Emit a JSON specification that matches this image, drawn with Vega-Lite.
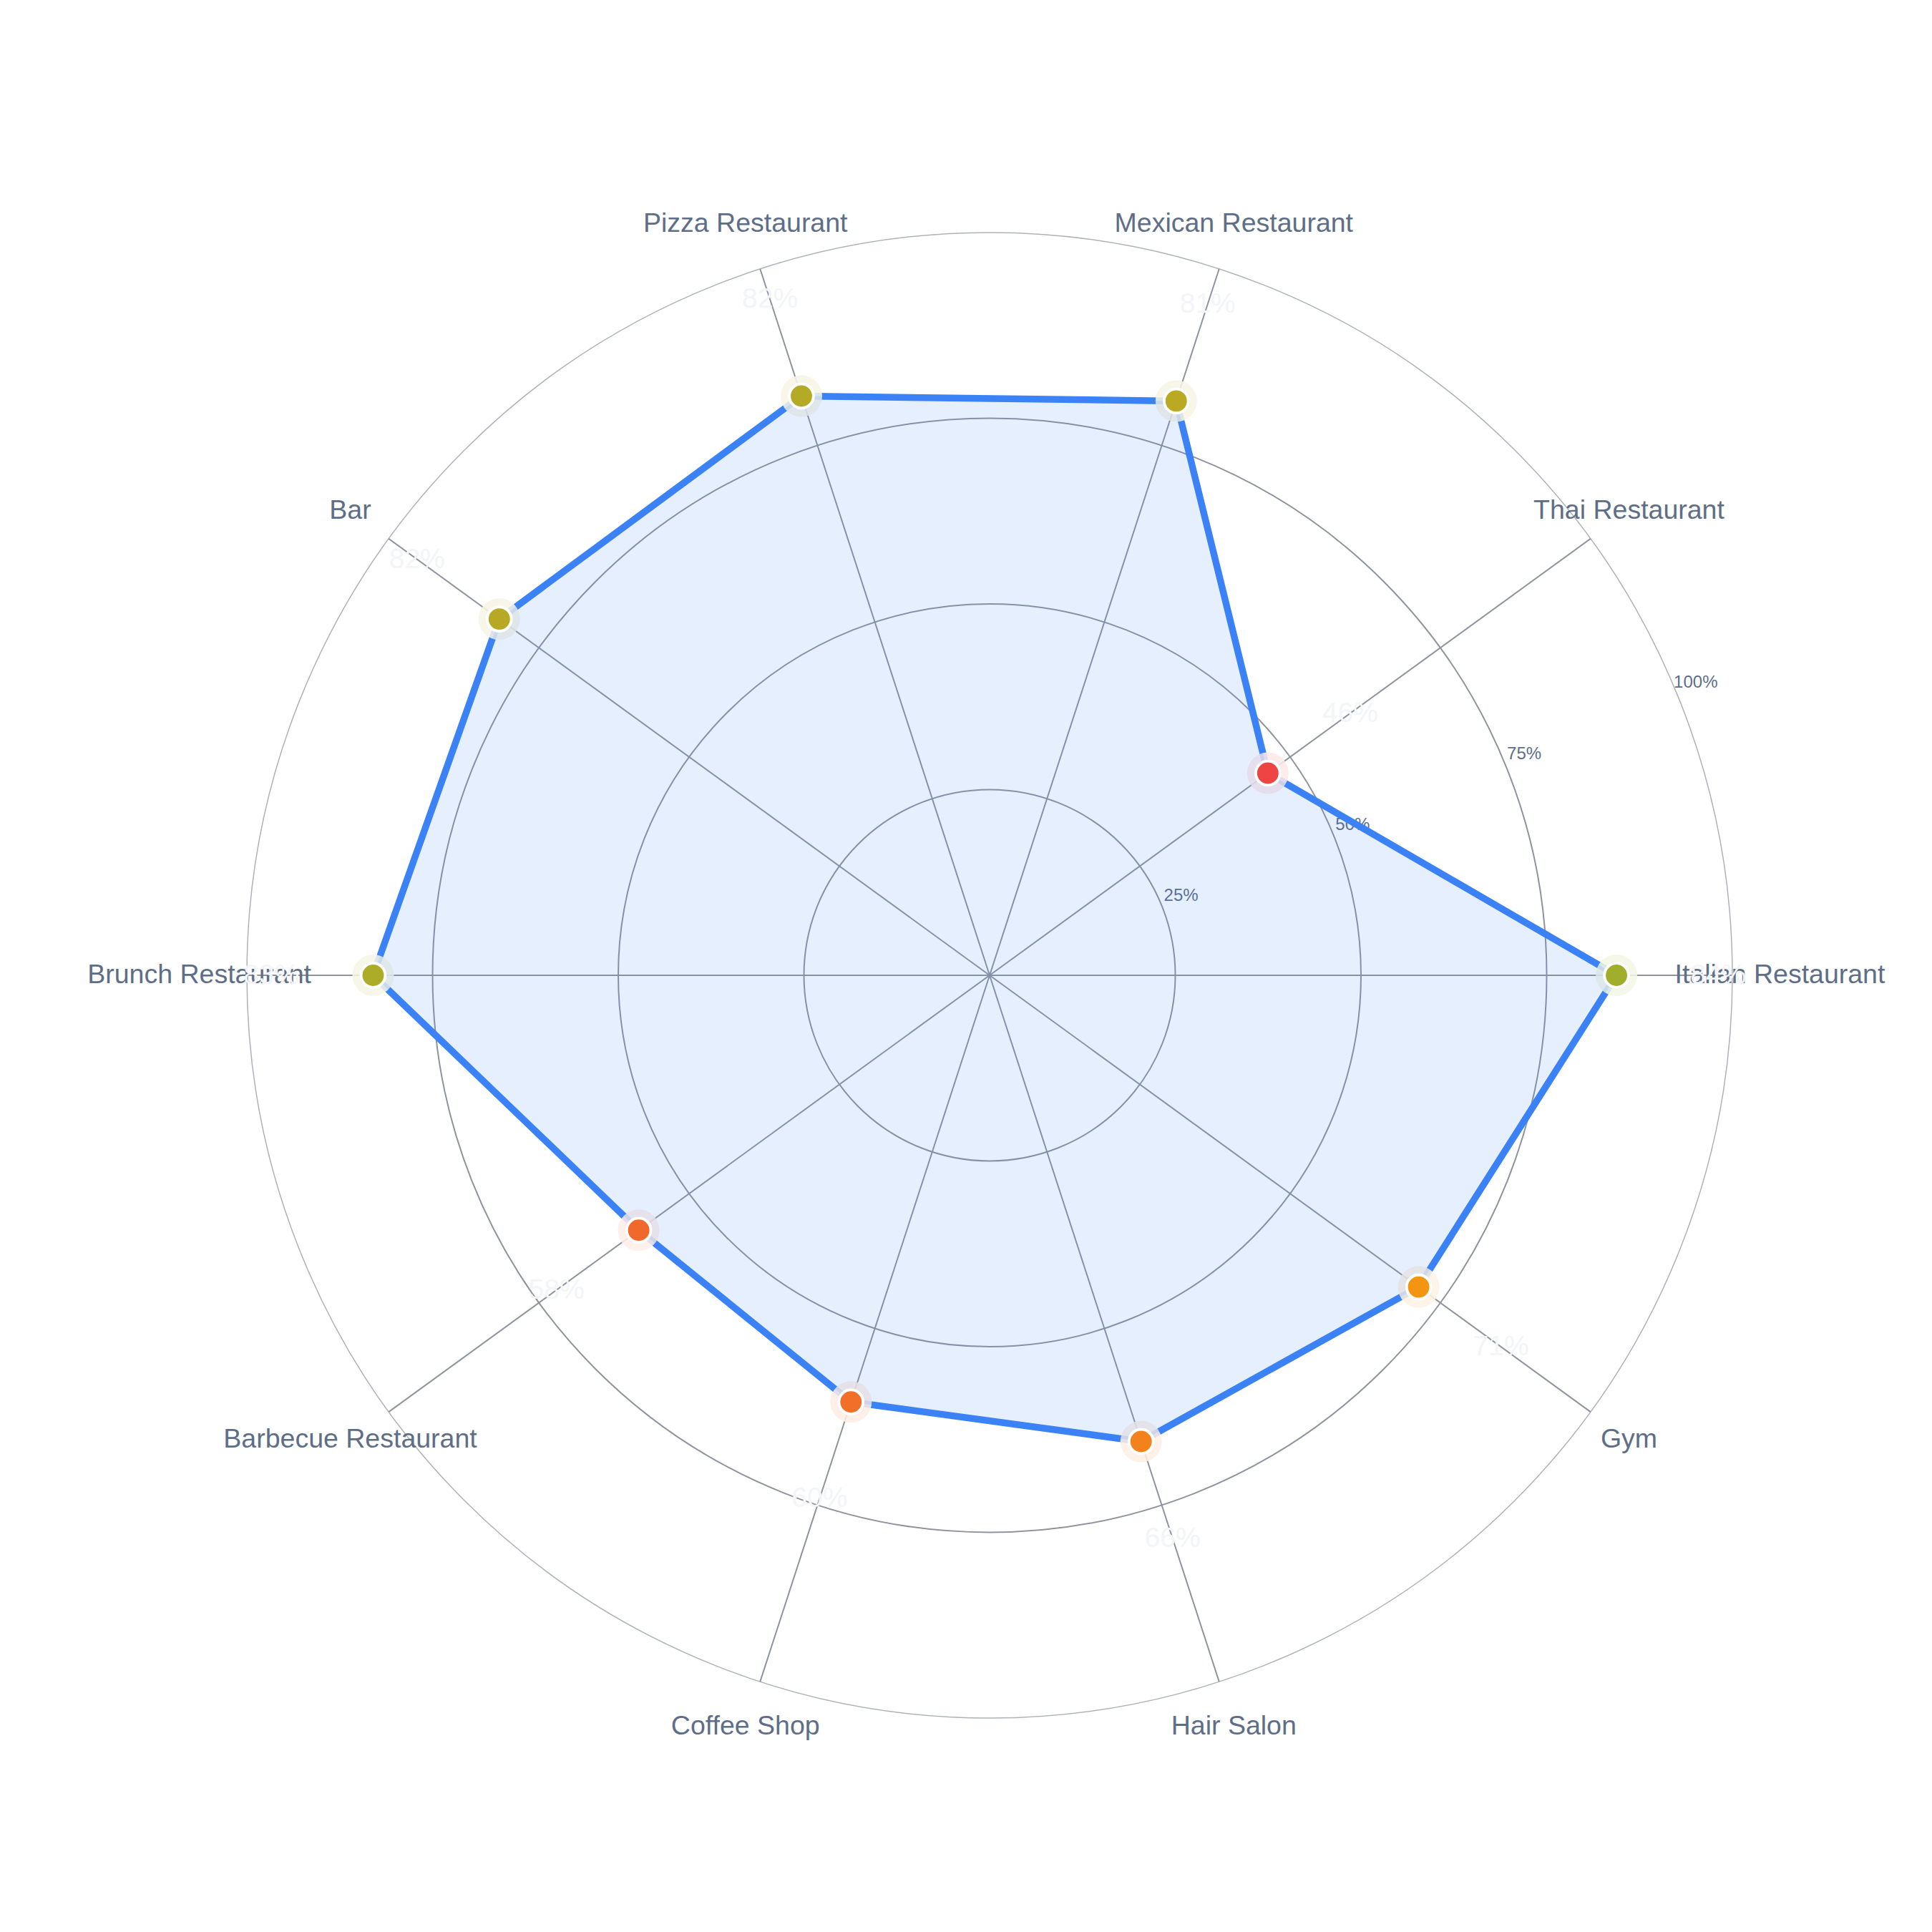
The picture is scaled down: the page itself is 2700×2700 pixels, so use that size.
{
  "$schema": "https://vega.github.io/schema/vega-lite/v6.json",
  "width": 2700,
  "height": 2700,
  "padding": 0,
  "autosize": "none",
  "background": "white",
  "config": {"view": {"stroke": null}},
  "layer": [
    {
      "data": {"values": [{"r": 25}, {"r": 50}, {"r": 75}, {"r": 100}]},
      "transform": [
        {"calculate": "0", "as": "ox"},
        {"calculate": "0", "as": "oy"}
      ],
      "mark": {"type": "point", "shape": "circle", "filled": false, "opacity": 1},
      "encoding": {
        "x": {"field": "ox", "type": "quantitative", "scale": {"domain": [-133.24, 126.88], "nice": false, "zero": false}, "axis": null},
        "y": {"field": "oy", "type": "quantitative", "scale": {"domain": [-128.81, 131.31], "nice": false, "zero": false}, "axis": null},
        "size": {"field": "r", "type": "quantitative", "scale": {"type": "pow", "exponent": 2, "domain": [0, 100], "range": [0, 4309776], "zero": true}, "legend": null},
        "stroke": {"condition": {"test": "datum.r == 100", "value": "#aeb2b8"}, "value": "#8f949c"},
        "strokeWidth": {"condition": {"test": "datum.r == 100", "value": 1.5}, "value": 2}
      }
    },
    {
      "data": {"values": [{"r": 25, "t": "25%"}, {"r": 50, "t": "50%"}, {"r": 75, "t": "75%"}, {"r": 100, "t": "100%"}]},
      "transform": [
        {"calculate": "(datum.r + 2.9) * cos(22.5 * PI / 180)", "as": "tx"},
        {"calculate": "(datum.r + 2.9) * sin(22.5 * PI / 180)", "as": "ty"}
      ],
      "mark": {"type": "text", "font": "Liberation Sans", "fontSize": 24, "color": "#5e6e87", "align": "center", "baseline": "middle"},
      "encoding": {
        "x": {"field": "tx", "type": "quantitative"},
        "y": {"field": "ty", "type": "quantitative"},
        "text": {"field": "t"}
      }
    },
    {
      "data": {"values": [
        {"category": "Italian Restaurant", "value": 84.4},
        {"category": "Thai Restaurant", "value": 46.3},
        {"category": "Mexican Restaurant", "value": 81.3},
        {"category": "Pizza Restaurant", "value": 82.0},
        {"category": "Bar", "value": 81.6},
        {"category": "Brunch Restaurant", "value": 83.0},
        {"category": "Barbecue Restaurant", "value": 58.4},
        {"category": "Coffee Shop", "value": 60.4},
        {"category": "Hair Salon", "value": 66.0},
        {"category": "Gym", "value": 71.4}
      ]},
      "transform": [
        {"window": [{"op": "row_number", "as": "rn"}]},
        {"calculate": "(datum.rn - 1) * PI / 5", "as": "a"},
        {"calculate": "0", "as": "ox"},
        {"calculate": "0", "as": "oy"},
        {"calculate": "datum.value * cos(datum.a)", "as": "px"},
        {"calculate": "datum.value * sin(datum.a)", "as": "py"},
        {"calculate": "100 * cos(datum.a)", "as": "sx"},
        {"calculate": "100 * sin(datum.a)", "as": "sy"},
        {"calculate": "106.4 * cos(datum.a)", "as": "lx"},
        {"calculate": "106.4 * sin(datum.a)", "as": "ly"},
        {"calculate": "(datum.value + 13.7) * cos(datum.a)", "as": "vx"},
        {"calculate": "(datum.value + 13.7) * sin(datum.a)", "as": "vy"},
        {"calculate": "format(datum.value, '.0f') + '%'", "as": "label"}
      ],
      "layer": [
        {
          "mark": {"type": "rule", "stroke": "#8f949c", "strokeWidth": 2},
          "encoding": {
            "x": {"field": "ox", "type": "quantitative"},
            "y": {"field": "oy", "type": "quantitative"},
            "x2": {"field": "sx"},
            "y2": {"field": "sy"}
          }
        },
        {
          "mark": {"type": "line", "interpolate": "linear-closed", "stroke": "#3b82f6", "strokeWidth": 9.5, "strokeJoin": "round"},
          "encoding": {
            "x": {"field": "px", "type": "quantitative"},
            "y": {"field": "py", "type": "quantitative"},
            "order": {"field": "rn", "type": "quantitative"}
          }
        },
        {
          "mark": {"type": "point", "shape": "circle", "filled": true, "size": 3364, "color": "white", "opacity": 0.85, "strokeWidth": 0},
          "encoding": {
            "x": {"field": "px", "type": "quantitative"},
            "y": {"field": "py", "type": "quantitative"}
          }
        },
        {
          "mark": {"type": "point", "shape": "circle", "filled": true, "size": 3364, "opacity": 0.1, "strokeWidth": 0},
          "encoding": {
            "x": {"field": "px", "type": "quantitative"},
            "y": {"field": "py", "type": "quantitative"},
            "color": {"field": "value", "type": "quantitative", "scale": {"domain": [48, 74, 100], "range": ["#ef4444", "#f59e0b", "#22c55e"], "interpolate": "rgb", "clamp": true}, "legend": null}
          }
        },
        {
          "mark": {"type": "line", "interpolate": "linear-closed", "fill": "#3b82f6", "fillOpacity": 0.13, "strokeWidth": 0, "strokeOpacity": 0},
          "encoding": {
            "x": {"field": "px", "type": "quantitative"},
            "y": {"field": "py", "type": "quantitative"},
            "order": {"field": "rn", "type": "quantitative"}
          }
        },
        {
          "mark": {"type": "point", "shape": "circle", "filled": true, "size": 1136, "opacity": 1, "stroke": "white", "strokeWidth": 3.8},
          "encoding": {
            "x": {"field": "px", "type": "quantitative"},
            "y": {"field": "py", "type": "quantitative"},
            "color": {"field": "value", "type": "quantitative", "scale": {"domain": [48, 74, 100], "range": ["#ef4444", "#f59e0b", "#22c55e"], "interpolate": "rgb", "clamp": true}, "legend": null}
          }
        },
        {
          "mark": {"type": "text", "font": "Liberation Sans", "fontSize": 37.5, "color": "#5e6e87", "align": "center", "baseline": "middle"},
          "encoding": {
            "x": {"field": "lx", "type": "quantitative"},
            "y": {"field": "ly", "type": "quantitative"},
            "text": {"field": "category"}
          }
        },
        {
          "mark": {"type": "text", "font": "Liberation Sans", "fontSize": 39, "color": "#f3f5f8", "align": "center", "baseline": "middle"},
          "encoding": {
            "x": {"field": "vx", "type": "quantitative"},
            "y": {"field": "vy", "type": "quantitative"},
            "text": {"field": "label"}
          }
        }
      ]
    }
  ]
}
